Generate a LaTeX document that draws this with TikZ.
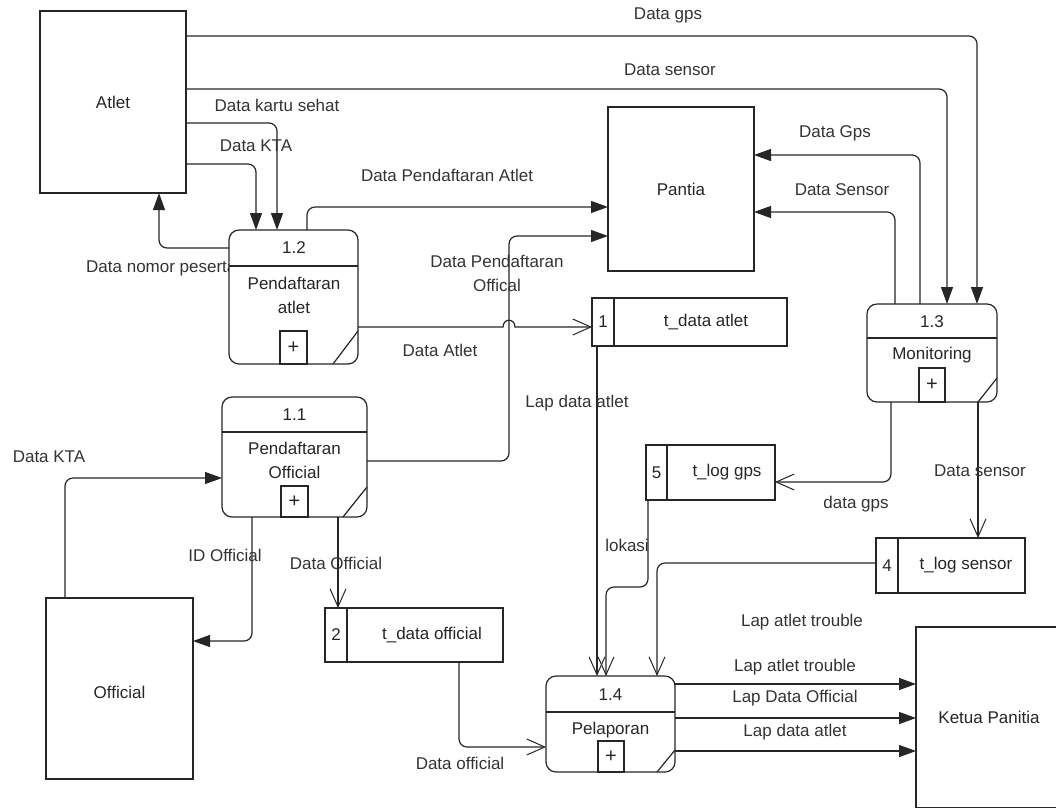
\documentclass[tikz,border=0pt]{standalone}
\usepackage{fontspec}
\setmainfont{Liberation Sans}
\usetikzlibrary{arrows.meta}
\begin{document}
\begin{tikzpicture}[x=1pt,y=-1pt,
  every node/.style={font=\fontsize{17}{24}\selectfont, text=black!85},
  line/.style={line width=1.2pt, draw=black!85, rounded corners=8pt},
  fa/.style={line, -{Triangle[length=17pt,width=12pt]}},
  oa/.style={line, -{Straight Barb[length=18pt,width=16pt,line width=1pt]}},
  ext/.style={draw=black!85, line width=1.2pt, fill=white, inner sep=0pt, outer sep=0pt},
  proc/.style={ext, rounded corners=10pt},
  store/.style={ext},
  inner/.style={line width=1.2pt, draw=black!85},
  lbl/.style={inner sep=0pt, text=black!80},
  plus/.style={inner sep=0pt, font=\fontsize{20}{20}\selectfont},
]
\useasboundingbox (0,0) rectangle (1056,807);
\clip (0,0) rectangle (1056,807);

% label partly hidden behind process 1.2
\node[lbl, anchor=west] (lnomor) at (86,268) {Data nomor peserta};

% external entities
\node[ext, minimum width=146pt, minimum height=182pt] (atlet) at (113,102) {Atlet};
\node[ext, minimum width=146pt, minimum height=164pt] (pantia) at (681,189) {Pantia};
\node[ext, minimum width=147pt, minimum height=181pt] (official) at (119.5,688.5) {};
\node (toff) at (119.5,692) {Official};
\node[ext, minimum width=146pt, minimum height=181pt] (ketua) at (989,717.5) {Ketua Panitia};

% process 1.2
\node[proc, minimum width=129pt, minimum height=134pt] (p12) at (293.5,297) {};
\draw[inner] (p12.west |- 0,266) -- (p12.east |- 0,266);
\draw[inner] (p12.south -| 280,0) rectangle (307,331);
\node[plus] (p12plus) at (293.5,348) {+};
\draw[inner] (p12.south -| 333,0) -- (p12.east |- 0,331);
\node (p12id) at (294,248) {1.2};
\node[align=center] (p12t) at (294,295) {Pendaftaran\\atlet};

% process 1.1
\node[proc, minimum width=145pt, minimum height=120pt] (p11) at (294.5,457) {};
\draw[inner] (p11.west |- 0,432) -- (p11.east |- 0,432);
\draw[inner] (p11.south -| 281,0) rectangle (308,486);
\node[plus] (p11plus) at (294.5,502) {+};
\draw[inner] (p11.south -| 343,0) -- (p11.east |- 0,487);
\node (p11id) at (294.5,415) {1.1};
\node[align=center] (p11t) at (294.5,460) {Pendaftaran\\Official};

% process 1.3
\node[proc, minimum width=130pt, minimum height=98pt] (p13) at (932,353) {};
\draw[inner] (p13.west |- 0,338) -- (p13.east |- 0,338);
\draw[inner] (p13.south -| 919,0) rectangle (945,368);
\node[plus] (p13plus) at (932,385) {+};
\draw[inner] (p13.south -| 978,0) -- (p13.east |- 0,378);
\node (p13id) at (932,322) {1.3};
\node (p13t) at (932,355) {Monitoring};

% process 1.4
\node[proc, minimum width=129pt, minimum height=96pt] (p14) at (610.5,724) {};
\draw[inner] (p14.west |- 0,712) -- (p14.east |- 0,712);
\draw[inner] (p14.south -| 598,0) rectangle (624,741);
\node[plus] (p14plus) at (611,757) {+};
\draw[inner] (p14.south -| 657,0) -- (p14.east |- 0,750);
\node (p14id) at (610.5,695) {1.4};
\node (p14t) at (610.5,730) {Pelaporan};

% data stores
\node[store, minimum width=195pt, minimum height=48pt] (s1) at (689.5,322) {};
\draw[inner] (s1.north -| 614,0) -- (s1.south -| 614,0);
\node (s1n) at (603,322) {1};
\node (s1t) at (706,322) {t\_data atlet};

\node[store, minimum width=129pt, minimum height=55pt] (s5) at (710.5,472.5) {};
\draw[inner] (s5.north -| 667,0) -- (s5.south -| 667,0);
\node (s5n) at (656.5,472.5) {5};
\node (s5t) at (727,472.5) {t\_log gps};

\node[store, minimum width=149pt, minimum height=55pt] (s4) at (950.5,565.5) {};
\draw[inner] (s4.north -| 898,0) -- (s4.south -| 898,0);
\node (s4n) at (887,565.5) {4};
\node (s4t) at (966,565.5) {t\_log sensor};

\node[store, minimum width=178pt, minimum height=54pt] (s2) at (414,635) {};
\draw[inner] (s2.north -| 347,0) -- (s2.south -| 347,0);
\node (s2n) at (336,635) {2};
\node (s2t) at (432,635) {t\_data official};

% connectors
\draw[fa] (atlet.east |- 0,36) -| (p13.north -| 977,0);
\draw[fa] (atlet.east |- 0,89) -| (p13.north -| 947,0);
\draw[fa] (atlet.east |- 0,123) -| (p12.north -| 277,0);
\draw[fa] (atlet.east |- 0,164) -| (p12.north -| 256,0);
\draw[fa] (p12.west |- 0,248) -| (atlet.south -| 159,0);
\draw[fa] (p12.north -| 307,0) |- (pantia.west |- 0,207);
\draw[fa] (p11.east |- 0,461) -- (509,461) -- (509,236) -- (pantia.west |- 0,236);
\draw[oa, sharp corners] (p12.east |- 0,327) -- (503,327) .. controls (503,318) and (515,318) .. (515,327) -- (s1.west |- 0,327);
\draw[oa] (s1.south -| 597,0) -- (p14.north -| 597,0);
\draw[oa] (s5.south -| 648,0) -- (648,587) -- (606,587) -- (p14.north -| 606,0);
\draw[oa] (s4.west |- 0,563) -| (p14.north -| 657,0);
\draw[oa] (p13.south -| 891,0) |- (s5.east |- 0,482);
\draw[oa] (p13.south -| 978,0) -- (s4.north -| 978,0);
\draw[fa] (p13.north -| 920,0) |- (pantia.east |- 0,155);
\draw[fa] (p13.north -| 895,0) |- (pantia.east |- 0,212);
\draw[fa] (official.north -| 65,0) |- (p11.west |- 0,478);
\draw[fa] (p11.south -| 252,0) |- (official.east |- 0,641);
\draw[oa] (p11.south -| 338,0) -- (s2.north -| 338,0);
\draw[oa] (s2.south -| 459,0) |- (p14.west |- 0,747);
\draw[fa] (p14.east |- 0,684) -- (ketua.west |- 0,684);
\draw[fa] (p14.east |- 0,718) -- (ketua.west |- 0,718);
\draw[fa] (p14.east |- 0,751) -- (ketua.west |- 0,751);

% connector labels
\node[lbl] (lgps) at (668,15) {Data gps};
\node[lbl] (lsensor) at (670,70) {Data sensor};
\node[lbl] (lkartu) at (277,105) {Data kartu sehat};
\node[lbl] (lkta) at (256,146) {Data KTA};
\node[lbl] (lpa) at (447,175) {Data Pendaftaran Atlet};
\node[lbl, align=center] (lpo) at (497,273) {Data Pendaftaran\\Offical};
\node[lbl] (latlet) at (440,350) {Data Atlet};
\node[lbl] (llda) at (577,403) {Lap data atlet};
\node[lbl] (lGps) at (835,133) {Data Gps};
\node[lbl] (lSensor) at (842,190) {Data Sensor};
\node[lbl] (ldgps) at (856,504) {data gps};
\node[lbl] (ldsensor) at (980,471) {Data sensor};
\node[lbl] (lkta2) at (49,457) {Data KTA};
\node[lbl] (lid) at (225,555) {ID Official};
\node[lbl] (ldoff) at (336,563) {Data Official};
\node[lbl] (ldoff2) at (460,763) {Data official};
\node[lbl] (llok) at (627,545) {lokasi};
\node[lbl] (llat0) at (802,622) {Lap atlet trouble};
\node[lbl] (llat) at (795,667) {Lap atlet trouble};
\node[lbl] (llo) at (795,698) {Lap Data Official};
\node[lbl] (llda2) at (795,732) {Lap data atlet};
\end{tikzpicture}
\end{document}
